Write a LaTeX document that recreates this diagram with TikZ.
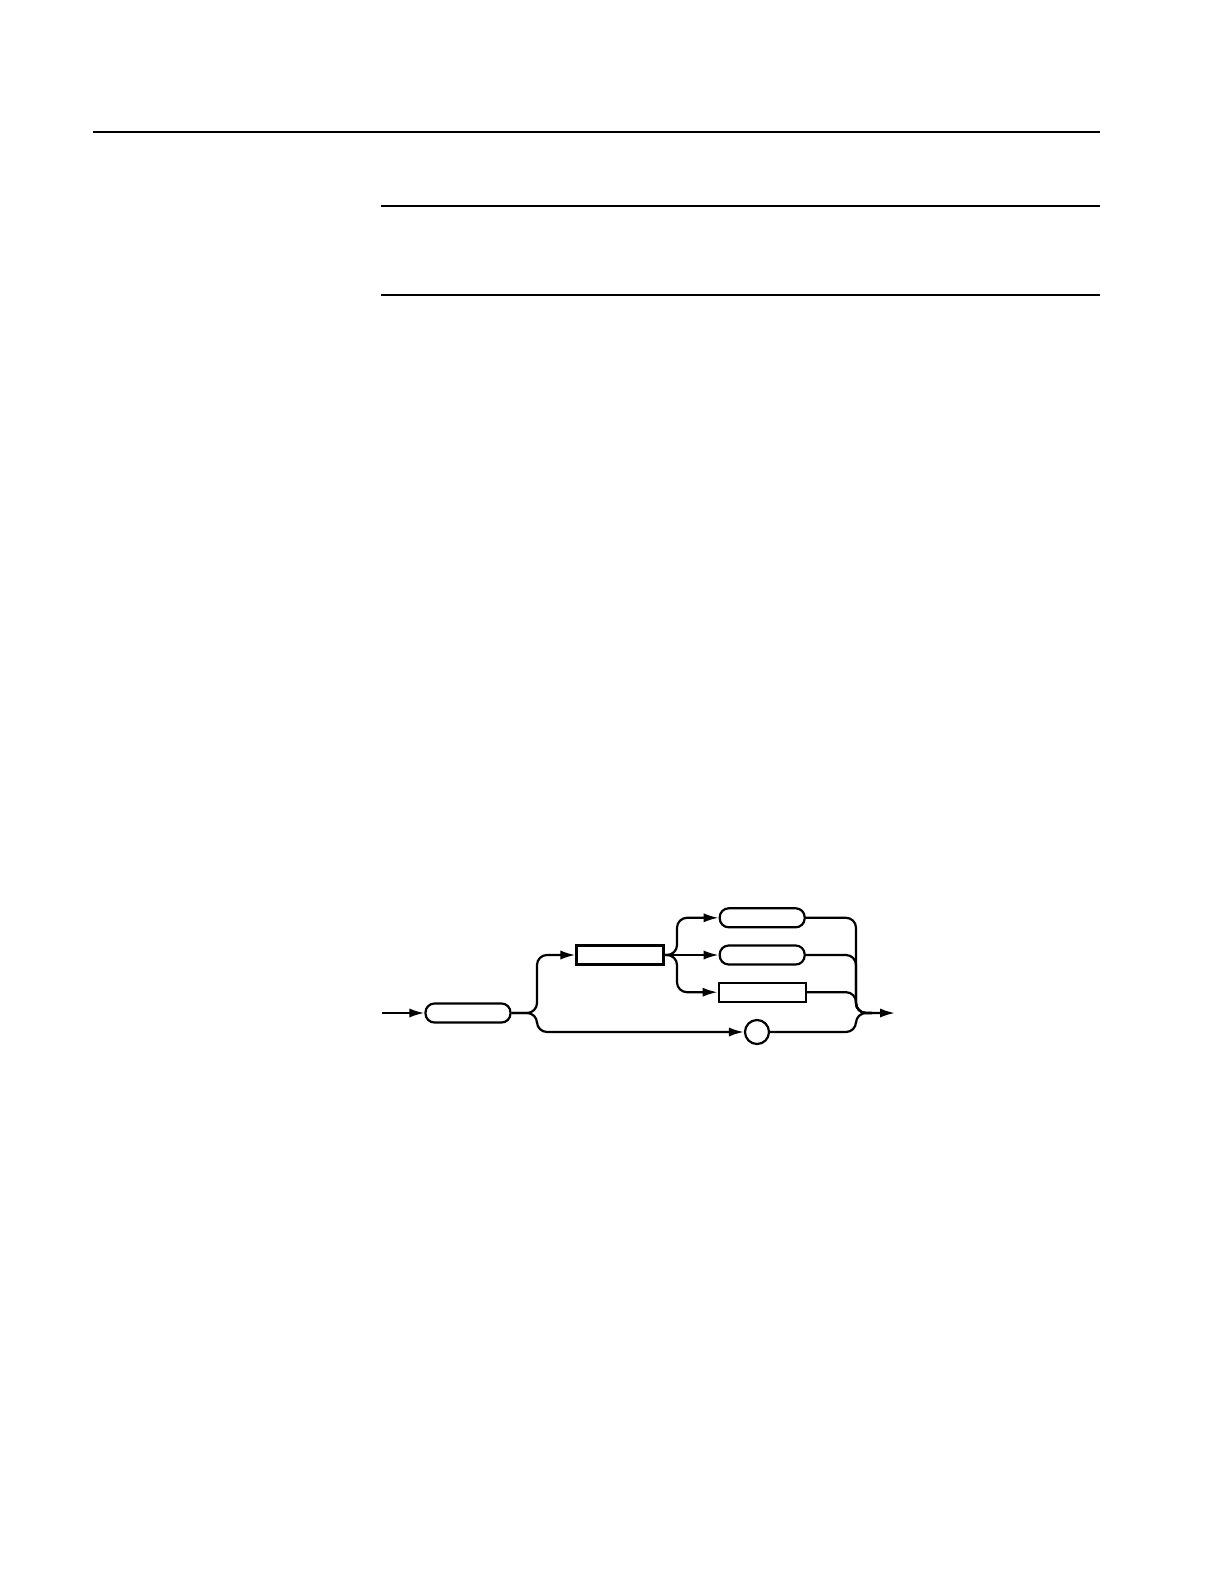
\documentclass[tikz,border=0pt]{standalone}
\usepackage{tikz}
\usetikzlibrary{
	arrows.meta,
	positioning
}
\tikzset{
	every path/.append style={
		line width=1.1pt
	},
	word/.style={
		draw,rounded corners=4.5pt,minimum width=42.5pt,minimum height=9.5pt,inner sep=0pt
	},
	field/.style={
		draw,minimum width=43.5pt,minimum height=9.5pt,inner sep=0pt
	},
	dot/.style={
		draw,circle,minimum size=12pt,inner sep=0pt
	},
	flow/.style={
		rounded corners=5pt
	},
	rule/.style={
		line width=0.8pt
	},
	>={Latex[length=7.5pt,width=4.6pt]}
}

\begin{document}
\begin{tikzpicture}[x=0.5pt,y=-0.5pt]
	\useasboundingbox (0,0) rectangle (1224,1584);

	% page rules
	\draw[rule] (93,132) -- (1100,132);
	\draw[rule] (381,206) -- (1100,206);
	\draw[rule] (381,295) -- (1100,295);

	% syntax diagram
	\coordinate (in)    at (382,1013);
	\coordinate (fork)  at (537,1013);
	\coordinate (fork2) at (677,955);
	\coordinate (join)  at (856,1013);
	\coordinate (tail)  at (872,1013);
	\coordinate (out)   at (895,1013);

	\draw
		node [word]                     (key)  at (468,1013) {}
		node [field]                    (sub)  at (620,955)  {}
		node [word,right=27pt of sub]   (optB)               {}
		node [word,above=8pt of optB]   (optA)               {}
		node [field,below=8pt of optB]  (optC)               {}
		node [dot]                      (sep)  at (757,1032) {}
	;

	\draw[->] (in) -- (key);
	\draw[flow,->] (key.east) -- (fork) |- (sub.west);
	\draw[flow,->] (key.east) -- (fork) |- (sep.west);

	\draw[flow,->] (sub.east) -- (fork2) |- (optA.west);
	\draw[->] (sub.east) -- (optB.west);
	\draw[flow,->] (sub.east) -- (fork2) |- (optC.west);

	\draw[flow] (optA.east) -| (join) -- (tail);
	\draw[flow] (optB.east) -| (join) -- (tail);
	\draw[flow] (optC.east) -| (join) -- (tail);
	\draw[flow,->] (sep.east) -| (join) -- (out);
\end{tikzpicture}
\end{document}
